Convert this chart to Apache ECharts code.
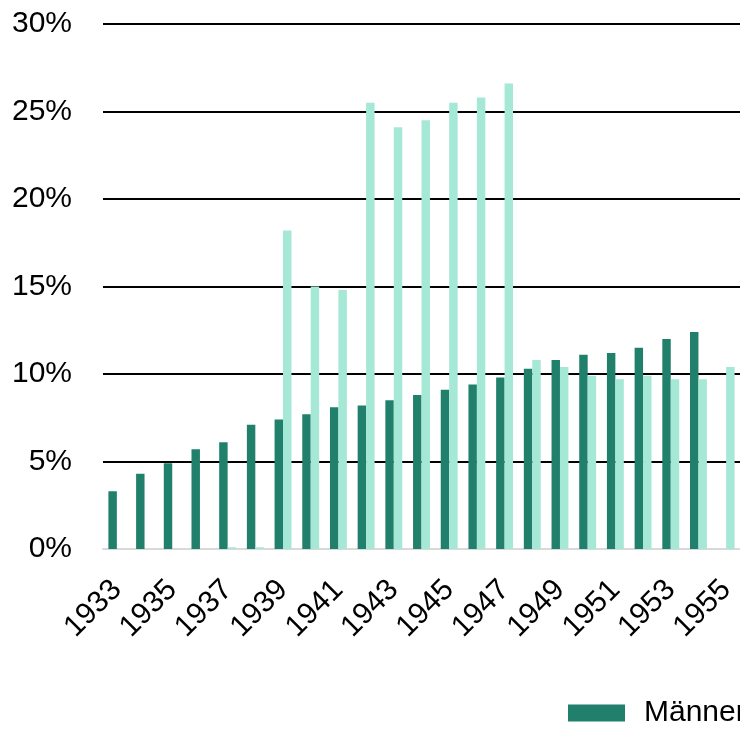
<!DOCTYPE html>
<html>
<head>
<meta charset="utf-8">
<script src="https://cdn.jsdelivr.net/npm/echarts@6/dist/echarts.min.js"></script>
<style>
  html, body { margin: 0; padding: 0; background: #fff; }
  #chart { width: 740px; height: 735px; }
</style>
</head>
<body>
<div id="chart"></div>
<script>
// Jahre
const years = ["1933", "1934", "1935", "1936", "1937", "1938", "1939", "1940", "1941", "1942", "1943", "1944",
  "1945", "1946", "1947", "1948", "1949", "1950", "1951", "1952", "1953", "1954", "1955"];
// Anteile in %
const maenner = [3.3, 4.3, 4.9, 5.7, 6.1, 7.1, 7.4, 7.7, 8.1, 8.2, 8.5, 8.8,
  9.1, 9.4, 9.8, 10.3, 10.8, 11.1, 11.2, 11.5, 12.0, 12.4, null];
const frauen = [null, null, null, null, 0.1, 0.1, 18.2, 15.0, 14.8, 25.5, 24.1, 24.5,
  25.5, 25.8, 26.6, 10.8, 10.4, 9.9, 9.7, 9.9, 9.7, 9.7, 10.4];
// Achse
const yTicks = [0, 5, 10, 15, 20, 25, 30];

const chart = echarts.init(document.getElementById("chart"));
const font = "Liberation Sans, Arial, sans-serif";

chart.setOption({
  animation: false,
  textStyle: { fontFamily: font },
  grid: { left: 103, right: 0, top: 24, bottom: 186 },
  legend: {
    left: 568,
    top: 698,
    width: 600,
    padding: 0,
    icon: "rect",
    itemWidth: 57,
    itemHeight: 17,
    itemGap: 40,
    textStyle: { fontSize: 30, color: "#000", fontFamily: font, padding: [2, 0, 0, 14] },
    data: ["Männer", "Frauen"]
  },
  xAxis: {
    type: "category",
    data: years,
    axisTick: { show: false },
    axisLine: { lineStyle: { color: "#d9d9d9", width: 2 } },
    axisLabel: {
      interval: 1,
      rotate: 45,
      margin: 36,
      fontSize: 30,
      color: "#000",
      fontFamily: font
    }
  },
  yAxis: {
    type: "value",
    min: yTicks[0],
    max: yTicks[yTicks.length - 1],
    interval: 5,
    axisLine: { show: false },
    axisTick: { show: false },
    splitLine: { lineStyle: { color: "#000", width: 2 } },
    axisLabel: {
      margin: 31,
      fontSize: 30,
      color: "#000",
      fontFamily: font,
      formatter: "{value}%"
    }
  },
  series: [
    {
      name: "Männer",
      type: "bar",
      data: maenner,
      barGap: "0%",
      barCategoryGap: "39%",
      itemStyle: { color: "#21806b" }
    },
    {
      name: "Frauen",
      type: "bar",
      data: frauen,
      itemStyle: { color: "#a5e8d6" }
    }
  ]
});
</script>
</body>
</html>
